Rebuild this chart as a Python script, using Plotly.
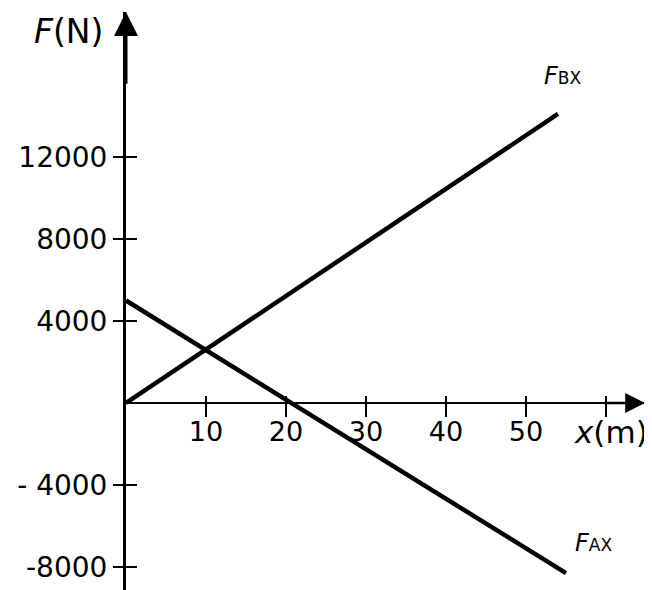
import plotly.graph_objects as go

# Data
fbx_x = [0, 54]
fbx_y = [0, 14100]
fax_x = [0, 55]
fax_y = [5000, -8300]

x_ticks = [10, 20, 30, 40, 50, 60]
x_ticktext = ["10", "20", "30", "40", "50", ""]
y_ticks = [12000, 8000, 4000, -4000, -8000]
y_ticktext = ["12000", "8000", "4000", "- 4000", "-8000"]

X_RANGE = [0, 65]
Y_RANGE = [-9122, 19073]
x0_pos = (0 - Y_RANGE[0]) / (Y_RANGE[1] - Y_RANGE[0])

FONT = "DejaVu Sans"

fig = go.Figure()
fig.add_trace(go.Scatter(x=fbx_x, y=fbx_y, mode="lines",
                         line=dict(color="black", width=4.5), showlegend=False,
                         hoverinfo="skip"))
fig.add_trace(go.Scatter(x=fax_x, y=fax_y, mode="lines",
                         line=dict(color="black", width=4.5), showlegend=False,
                         hoverinfo="skip"))
# invisible trace on overlay axes so they render
fig.add_trace(go.Scatter(x=[None], y=[None], xaxis="x2", yaxis="y2",
                         showlegend=False, hoverinfo="skip"))

# page body has an 8px margin, so the figure is offset by (8, 8)
fig.update_layout(
    width=644, height=582,
    margin=dict(l=118, r=6, t=4, b=0),
    paper_bgcolor="white", plot_bgcolor="white",
    font=dict(family=FONT, color="black", size=28),
    xaxis=dict(range=X_RANGE, anchor="free", position=x0_pos,
               showgrid=False, zeroline=False,
               showline=True, linecolor="black", linewidth=2,
               ticks="outside", ticklen=13, tickwidth=2, tickcolor="black",
               tickvals=x_ticks, ticktext=x_ticktext, ticklabelstandoff=-8,
               tickfont=dict(family=FONT, size=27)),
    yaxis=dict(range=Y_RANGE, showgrid=False, zeroline=False,
               showline=True, linecolor="black", linewidth=3,
               ticks="outside", ticklen=10, tickwidth=2, tickcolor="black",
               tickvals=y_ticks, ticktext=y_ticktext,
               tickfont=dict(family=FONT, size=28)),
    xaxis2=dict(range=X_RANGE, matches="x", overlaying="x", anchor="free",
                position=x0_pos, showgrid=False, zeroline=False, showline=False,
                ticks="inside", ticklen=7, tickwidth=2, tickcolor="black",
                tickvals=x_ticks, showticklabels=False),
    yaxis2=dict(range=Y_RANGE, matches="y", overlaying="y", anchor="x2",
                side="left", showgrid=False, zeroline=False, showline=False,
                ticks="inside", ticklen=11, tickwidth=2, tickcolor="black",
                tickvals=y_ticks, showticklabels=False),
)

annotations = [
    # y axis arrow
    dict(x=0, y=Y_RANGE[1], ax=0, ay=15500, xref="x", yref="y", axref="x", ayref="y",
         text="", showarrow=True, arrowhead=2, arrowsize=1.6, arrowwidth=3, arrowcolor="black"),
    # x axis arrow
    dict(x=64.9, y=0, ax=60, ay=0, xref="x", yref="y", axref="x", ayref="y",
         text="", showarrow=True, arrowhead=2, arrowsize=1.6, arrowwidth=2.5, arrowcolor="black"),
    # axis titles (paper coordinates)
    dict(x=-0.1115, y=0.9654, xref="paper", yref="paper", xanchor="center", yanchor="middle",
         text="<i>F</i>(N)", showarrow=False, font=dict(family=FONT, size=33)),
    dict(x=1.0077, y=0.2734, xref="paper", yref="paper", xanchor="right", yanchor="middle",
         text="<i>x</i>(m)", showarrow=False, font=dict(family=FONT, size=31)),
    dict(x=54.6, y=15950, xref="x", yref="y",
         text="<i>F</i><span style='font-size:17px'>BX</span>", showarrow=False,
         font=dict(family=FONT, size=24)),
    dict(x=58.4, y=-6830, xref="x", yref="y",
         text="<i>F</i><span style='font-size:17px'>AX</span>", showarrow=False,
         font=dict(family=FONT, size=24)),
]
fig.update_layout(annotations=annotations)

fig.write_html("out.html")
